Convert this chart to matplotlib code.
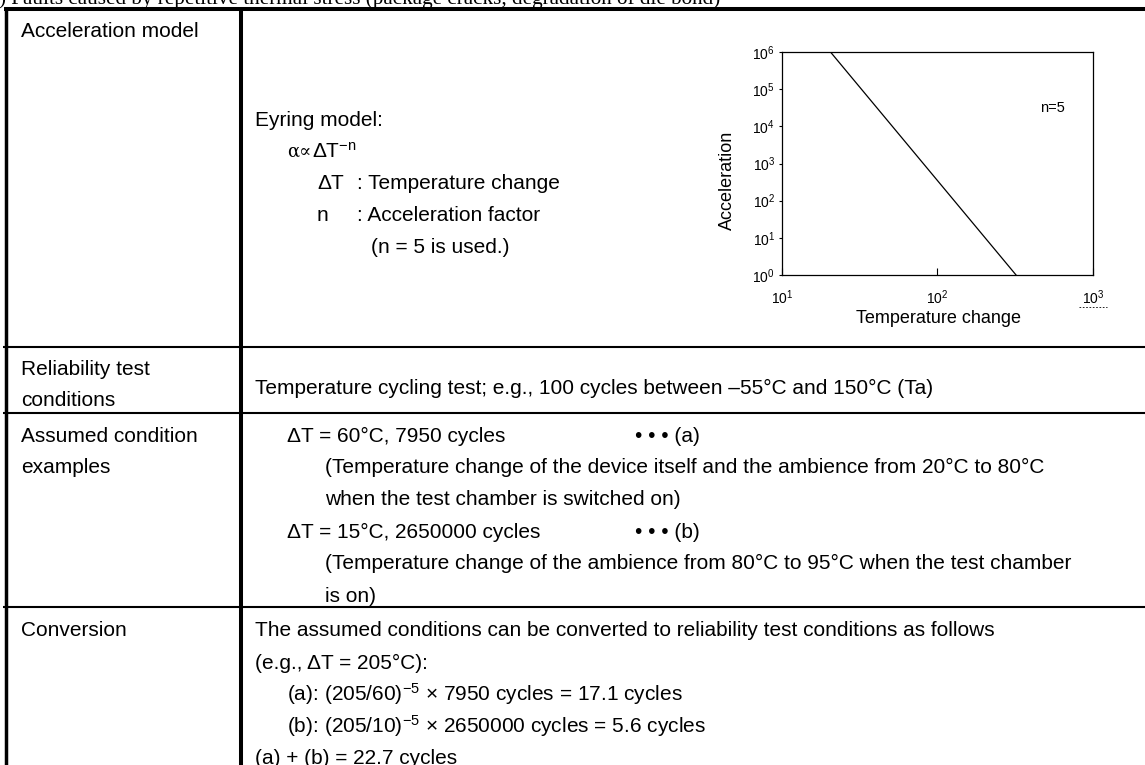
import matplotlib
matplotlib.use("Agg")
import matplotlib.pyplot as plt
from matplotlib.ticker import NullLocator, FixedLocator

plt.rcParams['font.family'] = ['Liberation Sans', 'DejaVu Sans']
plt.rcParams['mathtext.fontset'] = 'custom'
plt.rcParams['mathtext.rm'] = 'Liberation Sans'
plt.rcParams['mathtext.it'] = 'Liberation Sans:italic'
plt.rcParams['mathtext.bf'] = 'Liberation Sans:bold'
plt.rcParams['mathtext.default'] = 'regular'

# ---------------- data ----------------
delta_t = [20.5, 320.0]          # temperature change at line ends
acceleration = [1e6, 1e0]        # acceleration at line ends
x_ticks = [1e1, 1e2, 1e3]
y_ticks = [1e0, 1e1, 1e2, 1e3, 1e4, 1e5, 1e6]
x_label = "Temperature change"
y_label = "Acceleration"
plot_note = "n=5"

title_text = ") Faults caused by repetitive thermal stress (package cracks, degradation of die bond)"

row_labels = [
    ["Acceleration model"],
    ["Reliability test", "conditions"],
    ["Assumed condition", "examples"],
    ["Conversion"],
]

model_lines = [
    "Eyring model:",
    "α∝",
    r"ΔT$^{\mathrm{-n}}$",
    "ΔT",
    "n",
    "(n = 5 is used.)",
]
model_defs = [": Temperature change", ": Acceleration factor"]

test_text = "Temperature cycling test; e.g., 100 cycles between –55°C and 150°C (Ta)"

assumed_lines = [
    "ΔT = 60°C, 7950 cycles",
    "(Temperature change of the device itself and the ambience from 20°C to 80°C",
    "when the test chamber is switched on)",
    "ΔT = 15°C, 2650000 cycles",
    "(Temperature change of the ambience from 80°C to 95°C when the test chamber",
    "is on)",
]
assumed_tags = ["• • • (a)", "• • • (b)"]

conversion_lines = [
    "The assumed conditions can be converted to reliability test conditions as follows",
    "(e.g., ΔT = 205°C):",
    r"(a): (205/60)$^{-5}$ × 7950 cycles = 17.1 cycles",
    r"(b): (205/10)$^{-5}$ × 2650000 cycles = 5.6 cycles",
    "(a) + (b) = 22.7 cycles",
]

# ---------------- figure ----------------
W, H = 1145, 765
fig = plt.figure(figsize=(W / 100, H / 100), dpi=100)
fig.patch.set_facecolor("white")

ax0 = fig.add_axes([0, 0, 1, 1])
ax0.set_xlim(0, W)
ax0.set_ylim(H, 0)
ax0.axis("off")

FS = 15
K = "black"

# title (cut at top, as in the source page)
ax0.text(-1, 4, title_text, fontsize=15.2, family=['Liberation Serif', 'DejaVu Serif'],
         ha="left", va="baseline", color=K)

# table grid
ax0.plot([4, W], [9, 9], color=K, lw=2.9, solid_capstyle="butt")
ax0.plot([5.5, 5.5], [7.5, H], color=K, lw=2.5, solid_capstyle="butt")
ax0.plot([241, 241], [7.5, H], color=K, lw=2.9, solid_capstyle="butt")
for yy in (347, 413, 607):
    ax0.plot([3, W], [yy, yy], color=K, lw=1.5, solid_capstyle="butt")

# left column labels
label_y = [[31], [369, 400], [436, 467], [630]]
for lines, ys in zip(row_labels, label_y):
    for t, yy in zip(lines, ys):
        ax0.text(21, yy, t, fontsize=FS, ha="left", va="center", color=K)

# row 1: model text
ax0.text(255, 120, model_lines[0], fontsize=FS, ha="left", va="center", color=K)
t_alpha = ax0.text(287, 152, model_lines[1], fontsize=13, family=['DejaVu Serif', 'DejaVu Sans'],
                   ha="left", va="center", color=K)
fig.canvas.draw()
bb = t_alpha.get_window_extent(renderer=fig.canvas.get_renderer())
ax0.text(bb.x1 + 1, 152, model_lines[2], fontsize=FS, ha="left", va="center", color=K)
ax0.text(317, 183, model_lines[3], fontsize=FS, ha="left", va="center", color=K)
ax0.text(357, 183, model_defs[0], fontsize=FS, ha="left", va="center", color=K)
ax0.text(317, 215, model_lines[4], fontsize=FS, ha="left", va="center", color=K)
ax0.text(357, 215, model_defs[1], fontsize=FS, ha="left", va="center", color=K)
ax0.text(371, 247, model_lines[5], fontsize=FS, ha="left", va="center", color=K)

# row 2
ax0.text(255, 388, test_text, fontsize=FS, ha="left", va="center", color=K)

# row 3
a_x = [287, 325, 325, 287, 325, 325]
a_y = [436, 467, 499, 532, 563, 596]
for t, xx, yy in zip(assumed_lines, a_x, a_y):
    ax0.text(xx, yy, t, fontsize=FS, ha="left", va="center", color=K)
ax0.text(635, 436, assumed_tags[0], fontsize=FS, ha="left", va="center", color=K)
ax0.text(635, 532, assumed_tags[1], fontsize=FS, ha="left", va="center", color=K)

# row 4
c_x = [255, 255, 287, 287, 255]
c_y = [630, 663, 694, 726, 758]
for t, xx, yy in zip(conversion_lines, c_x, c_y):
    ax0.text(xx, yy, t, fontsize=FS, ha="left", va="center", color=K)

# ---------------- inset log-log chart ----------------
L, R, T, B = 782, 1093, 52, 275
ax = fig.add_axes([L / W, 1 - B / H, (R - L) / W, (B - T) / H])
ax.set_xscale("log")
ax.set_yscale("log")
ax.set_xlim(x_ticks[0], x_ticks[-1])
ax.set_ylim(y_ticks[0], y_ticks[-1])
ax.plot(delta_t, acceleration, color=K, lw=0.9)
ax.xaxis.set_major_locator(FixedLocator(x_ticks))
ax.yaxis.set_major_locator(FixedLocator(y_ticks))
ax.xaxis.set_minor_locator(NullLocator())
ax.yaxis.set_minor_locator(NullLocator())
ax.tick_params(axis="x", direction="in", length=5, width=0.8, pad=10, labelsize=10)
ax.tick_params(axis="y", direction="out", length=2, width=0.8, pad=3, labelsize=10)
for s in ax.spines.values():
    s.set_linewidth(0.9)
ax.text(0.87, 0.75, plot_note, transform=ax.transAxes, fontsize=10.5, ha="center", va="center")

fig.text(727 / W, 1 - 180 / H, y_label, rotation=90, fontsize=13, ha="center", va="center")
fig.text(938 / W, 1 - 318 / H, x_label, fontsize=13, ha="center", va="center")
ax0.plot([1079, 1107], [307, 307], color=K, lw=0.6, ls=(0, (2, 2)))

fig.savefig("out.png", dpi=100, facecolor="white")
